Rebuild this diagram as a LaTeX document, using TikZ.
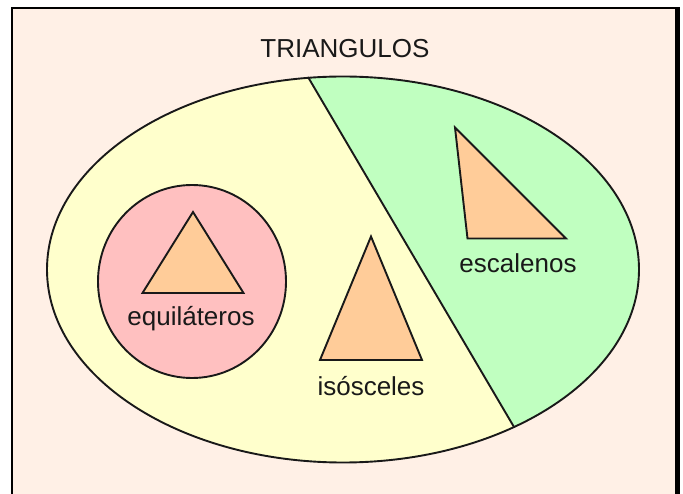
\documentclass[tikz,border=0pt]{standalone}
\usepackage{fontspec}
\setmainfont{Liberation Sans}
\definecolor{bgpeach}{HTML}{FFF0E6}
\definecolor{ellyellow}{HTML}{FFFFCC}
\definecolor{ellgreen}{HTML}{C0FFC0}
\definecolor{ellpink}{HTML}{FFC0C0}
\definecolor{trifill}{HTML}{FFCC99}
\tikzset{
  outline/.style={draw=black!90, line width=1.9pt},
  tri/.style={outline, fill=trifill, line join=miter},
  lbl/.style={inner sep=0pt, font=\fontsize{26}{30}\selectfont, text=black!90}
}
\begin{document}
\begin{tikzpicture}[x=1pt,y=-1pt]
\useasboundingbox (0,0) rectangle (683,494);
\fill[white] (0,0) rectangle (683,494);
% frame
\fill[bgpeach] (12,8) rectangle (677,494);
\draw[line width=2pt] (12,494) -- (12,8.3) -- (677,8.3);
\draw[line width=5pt] (677,7.3) -- (677,494);
% big ellipse
\fill[ellyellow] (343,269.5) ellipse [x radius=296, y radius=193];
\begin{scope}
  \clip (343,269.5) ellipse [x radius=296, y radius=193];
  \fill[ellgreen] (308,77) -- (514,427) -- (720,777) -- (800,777) -- (800,0) -- (308,0) -- cycle;
\end{scope}
\draw[outline] (343,269.5) ellipse [x radius=296, y radius=193];
\coordinate (divtop) at (308,77);
\coordinate (divbot) at (514,427);
\draw[outline] (divtop) -- (divbot);
% pink circle
\draw[outline, fill=ellpink] (192,281.5) ellipse [x radius=94, y radius=96.5];
% triangles
\draw[tri] (193,212) -- (243.5,293) -- (142.5,293) -- cycle;
\draw[tri] (371,236.5) -- (422,360) -- (320,360) -- cycle;
\draw[tri] (455,127.5) -- (566,238.5) -- (467.5,238.5) -- cycle;
% labels
\node[lbl] (title) at (345,49) {TRIANGULOS};
\node[lbl] (equi) at (191,319) {equiláteros};
\node[lbl] (isos) at (371,386) {isósceles};
\node[lbl] (esca) at (518,263) {escalenos};
\end{tikzpicture}
\end{document}
